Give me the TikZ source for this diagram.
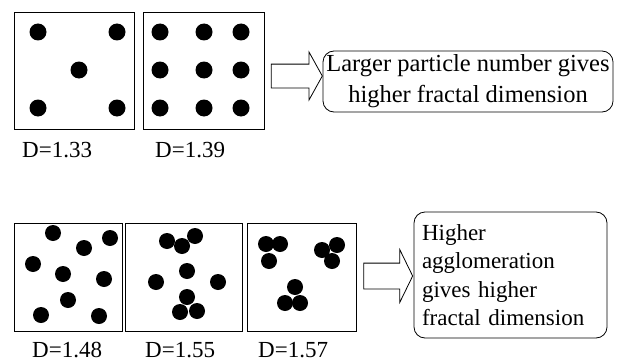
\documentclass[tikz,border=0pt]{standalone}
\usepackage{fontspec}
\setmainfont{Liberation Serif}
\usepackage{tikz}
\usetikzlibrary{positioning,shapes.arrows}
\tikzset{
  panel/.style={draw, line width=0.8pt, inner sep=0pt, minimum height=117pt},
  lowpanel/.style={panel, minimum height=108pt},
  dlabel/.style={anchor=west, inner sep=0pt, font=\fontsize{23}{28}\selectfont},
  notebox/.style={draw, rounded corners=11pt, line width=0.8pt, inner sep=0pt, font=\fontsize{23}{28.5}\selectfont},
  fatarrow/.style={draw, single arrow, line width=0.8pt, inner sep=0pt, single arrow head indent=0pt}
}

\begin{document}
\begin{tikzpicture}[x=1pt, y=-1pt]
\useasboundingbox (0,0) rectangle (620,361);
% top row
\node[panel, minimum width=120pt] (p1) at (74,70.5) {};
\node[panel, minimum width=121pt] (p2) at (203.5,70.5) {};
\foreach \x/\y in {38/32, 117/32, 79/70, 38/108, 117/108}
  \fill (\x,\y) circle (8.5);
\foreach \x in {160,204,241}
  \foreach \y in {32,70,108}
    \fill (\x,\y) circle (8.5);
\node[dlabel] (d1) at (22,150) {D=1.33};
\node[dlabel] (d2) at (155,150) {D=1.39};
\node[notebox, minimum width=290pt, minimum height=61pt, align=center,
  font=\fontsize{24.5}{31}\selectfont] (noteA) at (468,81.5)
  {Larger particle number gives\\higher fractal dimension};
\path (p2.east) -- node[fatarrow, minimum height=51pt, single arrow head extend=12pt,
  single arrow tip angle=122] (arrA) {\rule{0pt}{23pt}} (noteA.west);
% bottom row
\node[lowpanel, minimum width=108pt] (p3) at (68,277) {};
\node[lowpanel, minimum width=117pt] (p4) at (183.5,277) {};
\node[lowpanel, minimum width=109pt] (p5) at (301.5,277) {};
\foreach \x/\y in {53/233, 110/238, 84/248, 33/264, 63/274, 104/279, 68/300, 41/315, 99/316,
  167/241, 182/246, 195/236, 187/271, 156/282, 218/282, 187/297, 180/312, 197/311,
  266/244, 280/244, 269/261, 322/250, 337/245, 332/261, 295/287, 285/303, 300/303}
  \fill (\x,\y) circle (8);
\node[dlabel] (d3) at (32,350) {D=1.48};
\node[dlabel] (d4) at (145,350) {D=1.55};
\node[dlabel] (d5) at (258,350) {D=1.57};
\node[notebox, minimum width=193pt, minimum height=126pt, text width=177pt, align=left] (noteB) at (510.5,275)
  {Higher\\agglomeration\\gives higher\\fractal dimension};
\path (p5.east) -- node[fatarrow, minimum height=49pt, single arrow head extend=13.5pt,
  single arrow tip angle=128] (arrB) {\rule{0pt}{25pt}} (noteB.west);
\end{tikzpicture}
\end{document}
